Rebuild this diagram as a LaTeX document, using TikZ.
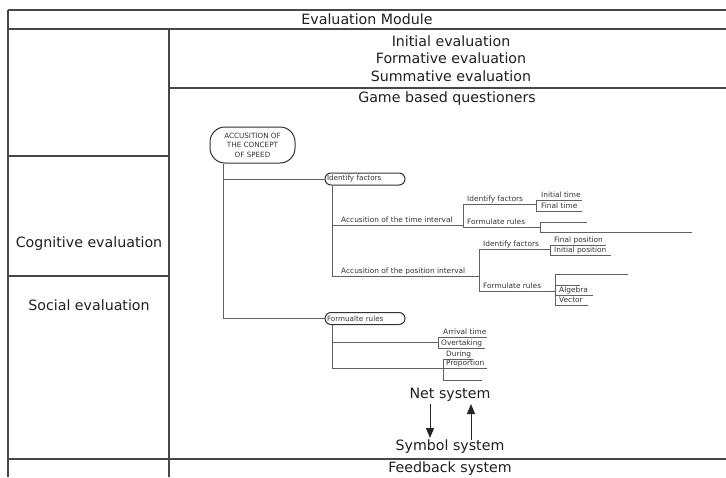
\documentclass[tikz,border=0pt]{standalone}
\usepackage{fontspec}
\setmainfont{DejaVu Sans}
\usetikzlibrary{arrows.meta}
\begin{document}
\begin{tikzpicture}[x=1pt,y=-1pt,
  grid/.style={draw=black!72, line width=1.3pt},
  head/.style={font=\fontsize{14.2}{16}\selectfont, text=black!88, inner sep=0pt},
  twig/.style={draw=black!62, line width=0.9pt},
  pill/.style={draw=black!80, line width=1pt, rounded corners=6pt,
    text width=76pt, inner xsep=2pt, inner ysep=0pt, minimum height=12pt,
    align=left, font=\fontsize{7.2}{8}\selectfont, text=black!80},
  lbl/.style={font=\fontsize{7.4}{8}\selectfont, text=black!80, inner sep=0pt, anchor=base west},
  arr/.style={draw=black!85, line width=1pt, -{Triangle[width=8pt,length=10pt]}}]
\useasboundingbox (0,0) rectangle (726,477);

% table frame
\draw[grid] (8,10) -- (726,10);
\draw[grid] (8,29) -- (726,29);
\draw[grid] (169,88) -- (726,88);
\draw[grid] (8,10) -- (8,477);
\draw[grid] (169,29) -- (169,477);
\draw[grid] (8,156) -- (169,156);
\draw[grid] (8,276) -- (169,276);
\draw[grid] (8,459) -- (726,459);

% table headings
\node[head] (mod) at (367,19) {Evaluation Module};
\node[head] (ini) at (451,41) {Initial evaluation};
\node[head] (for) at (451,58.5) {Formative evaluation};
\node[head] (sum) at (451,76) {Summative evaluation};
\node[head] (gbq) at (447,99) {Game based questioners};
\node[head] (cog) at (89,244) {Cognitive evaluation};
\node[head] (soc) at (89,305) {Social evaluation};
\node[head] (net) at (450,395) {Net system};
\node[head] (sym) at (450,447) {Symbol system};
\node[head] (fb)  at (450,469) {Feedback system};

% net <-> symbol arrows
\coordinate (dTop) at (430,404);
\coordinate (dEnd) at (430,438);
\coordinate (uBot) at (471,440);
\coordinate (uEnd) at (471,404);
\draw[arr] (dTop) -- (dEnd);
\draw[arr] (uBot) -- (uEnd);

% concept map
\node[draw=black!80, line width=1pt, rounded corners=15pt, minimum width=85pt,
  minimum height=36pt, inner sep=0pt, align=center,
  font=\fontsize{7.2}{9.6}\selectfont, text=black!80] (root) at (252.5,145)
  {ACCUSITION OF\\THE CONCEPT\\OF SPEED};
\node[pill] (idf) at (365,179) {Identify factors};
\node[pill] (frm) at (365,318.5) {Formualte rules};

\coordinate (trunk) at (223,318.5);
\draw[twig] (root.south -| trunk) -- (trunk) -- (frm.west);
\draw[twig] (trunk |- idf.west) -- (idf.west);

% identify factors branch
\coordinate (a0) at (332,276);
\draw[twig] (idf.south -| a0) -- (a0) -- (479,276);
\draw[twig] (332,225) -- (463,225);
\node[lbl] (ati) at (341,222) {Accusition of the time interval};
\node[lbl] (api) at (341,273) {Accusition of the position interval};

% time interval
\draw[twig] (536,204) -- (463,204) -- (463,227) -- (540,227);
\node[lbl] (tif) at (467,201.5) {Identify factors};
\node[lbl] (tfr) at (467,224.5) {Formulate rules};
\draw[twig] (582,200) -- (536,200) -- (536,211) -- (582,211);
\node[lbl] (tit) at (541,197.5) {Initial time};
\node[lbl] (tft) at (541,208.5) {Final time};
\draw[twig] (587,222) -- (540,222) -- (540,232) -- (692,232);

% position interval
\draw[twig] (550,249) -- (479,249) -- (479,291) -- (555,291);
\node[lbl] (pif) at (483,246.5) {Identify factors};
\node[lbl] (pfr) at (483,288.5) {Formulate rules};
\draw[twig] (606,245) -- (550,245) -- (550,255) -- (611,255);
\node[lbl] (pfp) at (554,242.5) {Final position};
\node[lbl] (pip) at (554,252.5) {Initial position};
\draw[twig] (628,274) -- (555,274) -- (555,305) -- (588,305);
\draw[twig] (555,285) -- (580,285);
\draw[twig] (555,295) -- (593,295);
\node[lbl] (alg) at (559,292.5) {Algebra};
\node[lbl] (vec) at (559,302.5) {Vector};

% formulate rules branch
\coordinate (b0) at (332,368);
\draw[twig] (frm.south -| b0) -- (b0) -- (487,368);
\draw[twig] (332,342) -- (438,342);
\draw[twig] (487,337) -- (438,337) -- (438,348) -- (485,348);
\node[lbl] (arv) at (443,334.5) {Arrival time};
\node[lbl] (ovt) at (441,345.5) {Overtaking};
\draw[twig] (473,359) -- (443,359) -- (443,380) -- (482,380);
\node[lbl] (dur) at (446,356.5) {During};
\node[lbl] (pro) at (446,365.5) {Proportion};
\end{tikzpicture}
\end{document}
